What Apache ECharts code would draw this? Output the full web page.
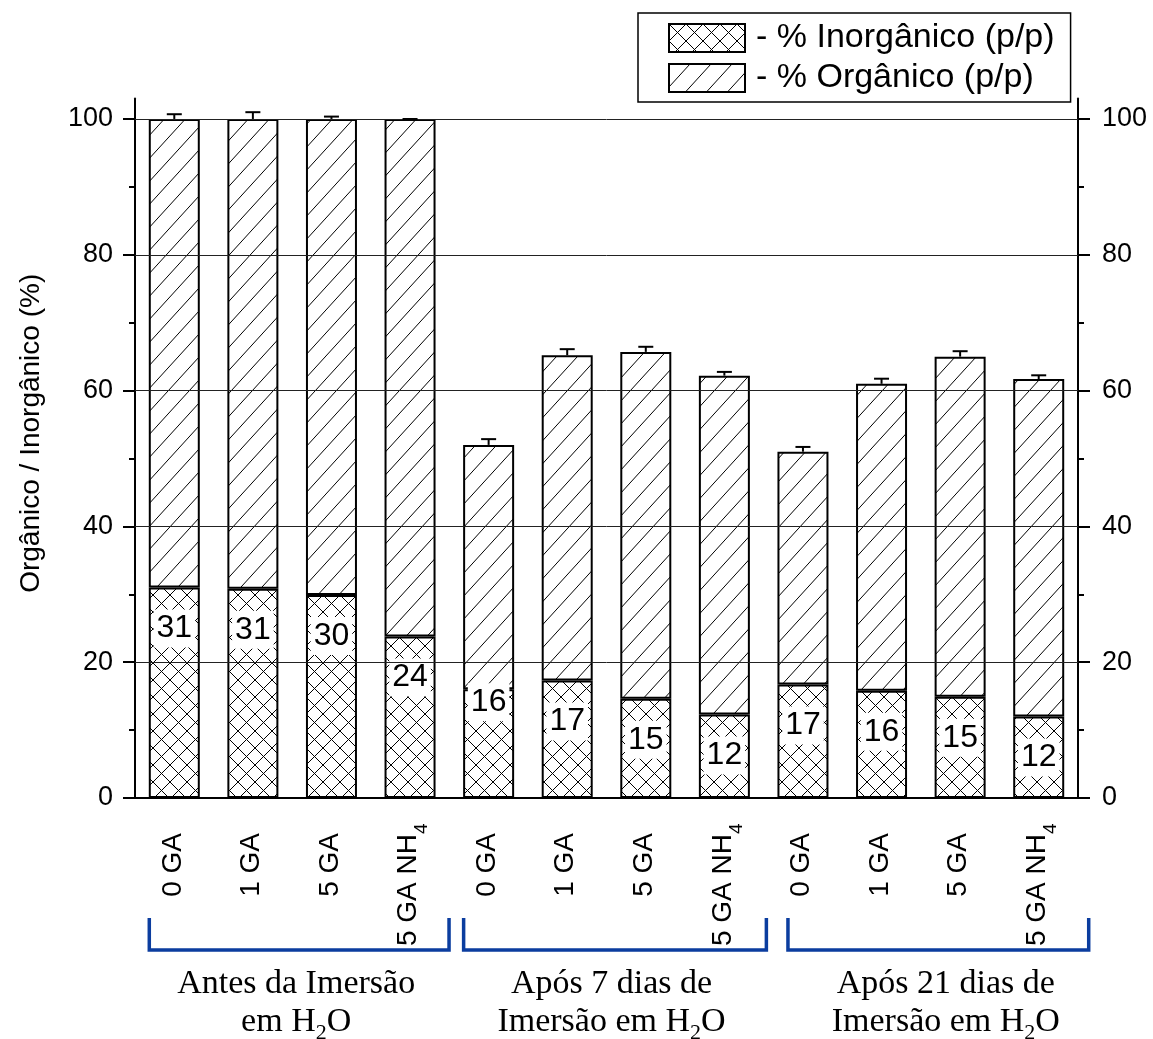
<!DOCTYPE html>
<html>
<head>
<meta charset="utf-8">
<script src="https://cdn.jsdelivr.net/npm/echarts@6/dist/echarts.min.js"></script>
<style>
  html, body { margin: 0; padding: 0; background: #fff; }
  #chart { width: 1153px; height: 1039px; }
</style>
</head>
<body>
<div id="chart"></div>
<script>
// ---- data ----
const categories = ['0 GA', '1 GA', '5 GA', '5 GA NH4',
                    '0 GA', '1 GA', '5 GA', '5 GA NH4',
                    '0 GA', '1 GA', '5 GA', '5 GA NH4'];
const inorganic  = [31.0, 30.8, 29.9, 23.8, 16.0, 17.3, 14.6, 12.3, 16.7, 15.8, 14.9, 12.0];
const organic    = [69.0, 69.2, 70.1, 76.2, 36.0, 47.9, 51.1, 49.9, 34.3, 45.2, 50.1, 49.7];
const organicErr = [0.7, 1.0, 0.35, 0, 0.85, 0.9, 0.75, 0.55, 0.7, 0.75, 0.8, 0.55];
const yTicks      = [0, 20, 40, 60, 80, 100];
const yMinorTicks = [10, 30, 50, 70, 90];
const groupNames  = ['Antes da Imersão\nem H2O', 'Após 7 dias de\nImersão em H2O', 'Após 21 dias de\nImersão em H2O'];
const groupRanges = [[0, 3], [4, 7], [8, 11]];
const seriesNames = ['- % Inorgânico (p/p)', '- % Orgânico (p/p)'];

// ---- layout / style constants ----
const SANS = "'Liberation Sans', Arial, sans-serif";
const SERIF = "'Liberation Serif', 'Times New Roman', serif";
const BLUE = '#0b3d9f';
const bracketInset = [[-25, 39], [-25, 42], [-15, 50]];
const groupTextShift = [4, 5, 25];
const labelShift = { 4: -28 };

// hatch fills drawn on small repeating tiles
function hatchTile(w, h, cross) {
  const c = document.createElement('canvas');
  c.width = w; c.height = h;
  const g = c.getContext('2d');
  g.fillStyle = '#fff';
  g.fillRect(0, 0, w, h);
  g.strokeStyle = '#000';
  g.lineWidth = 1;
  g.beginPath();
  for (const o of [-w, 0, w]) { g.moveTo(o, h); g.lineTo(o + w, 0); }
  if (cross) {
    for (const o of [-w, 0, w]) { g.moveTo(o, 0); g.lineTo(o + w, h); }
  }
  g.stroke();
  return c;
}
const crossFill = { image: hatchTile(17, 17, true), repeat: 'repeat' };
const diagFill  = { image: hatchTile(21, 23, false), repeat: 'repeat' };

const chart = echarts.init(document.getElementById('chart'), null, { renderer: 'canvas' });

const yBase = {
  type: 'value', min: 0, max: 103,
  splitLine: { show: false },
  axisLine: { show: true, onZero: false, lineStyle: { color: '#000', width: 2 } }
};

const option = {
  backgroundColor: '#fff',
  animation: false,
  grid: { left: 135, right: 75, top: 98.6, bottom: 241, outerBoundsMode: 'none' },
  legend: {
    left: 638, top: 13, orient: 'vertical',
    selectedMode: false,
    icon: 'rect',
    itemWidth: 76, itemHeight: 28, itemGap: 6,
    padding: [8, 16, 7, 30],
    borderColor: '#000', borderWidth: 1.5,
    textStyle: { fontFamily: SANS, fontSize: 34, color: '#000', lineHeight: 28, padding: [0, 0, 0, 6] },
    data: seriesNames
  },
  xAxis: {
    type: 'category',
    data: categories,
    axisLine: { lineStyle: { color: '#000', width: 2 } },
    axisTick: { alignWithLabel: true, length: 12, lineStyle: { color: '#000', width: 2 } },
    axisLabel: {
      interval: 0, rotate: 90, margin: 35,
      formatter: v => {
        const m = v.match(/^(.*NH)(\d)$/);
        return m ? '{a|' + m[1] + '}{s|' + m[2] + '}' : '{a|' + v + '}';
      },
      rich: {
        a: { fontFamily: SANS, fontSize: 28, color: '#000', lineHeight: 31, align: 'left', verticalAlign: 'top' },
        // the subscript hangs past the label end, like a typeset index
        s: { fontFamily: SANS, fontSize: 19, color: '#000', lineHeight: 19, width: 1, align: 'left', verticalAlign: 'top', padding: [18, 0, 0, 0] }
      }
    }
  },
  yAxis: [
    Object.assign({}, yBase, {
      position: 'left',
      name: 'Orgânico / Inorgânico (%)',
      nameLocation: 'middle', nameGap: 90,
      nameTextStyle: { fontFamily: SANS, fontSize: 28, color: '#000', padding: [0, 0, 0, 30] },
      axisTick: { show: true, length: 12, customValues: yTicks, lineStyle: { color: '#000', width: 2 } },
      axisLabel: { customValues: yTicks, margin: 22, fontFamily: SANS, fontSize: 27, color: '#000' }
    }),
    Object.assign({}, yBase, {
      position: 'left',
      axisLine: { show: false },
      axisTick: { show: true, length: 6, customValues: yMinorTicks, lineStyle: { color: '#000', width: 2 } },
      axisLabel: { show: false }
    }),
    Object.assign({}, yBase, {
      position: 'right',
      axisTick: { show: true, length: 12, customValues: yTicks, lineStyle: { color: '#000', width: 2 } },
      axisLabel: { customValues: yTicks, margin: 24, fontFamily: SANS, fontSize: 27, color: '#000' }
    }),
    Object.assign({}, yBase, {
      position: 'right',
      axisLine: { show: false },
      axisTick: { show: true, length: 6, customValues: yMinorTicks, lineStyle: { color: '#000', width: 2 } },
      axisLabel: { show: false }
    })
  ],
  series: [
    {
      name: seriesNames[0],
      type: 'bar', stack: 'total', barWidth: 51,
      itemStyle: { color: crossFill, borderColor: '#000', borderWidth: 2 },
      emphasis: { disabled: true },
      label: {
        show: true, position: 'insideTop', distance: 22,
        formatter: p => String(Math.round(p.value)),
        fontFamily: SANS, fontSize: 32, color: '#000', lineHeight: 34,
        backgroundColor: '#fff', padding: [2, 3]
      },
      data: inorganic.map((v, i) => labelShift[i] !== undefined
        ? { value: v, label: { offset: [0, labelShift[i]] } }
        : v)
    },
    {
      name: seriesNames[1],
      type: 'bar', stack: 'total', barWidth: 51,
      itemStyle: { color: diagFill, borderColor: '#000', borderWidth: 2 },
      emphasis: { disabled: true },
      data: organic,
      markLine: {
        silent: true, symbol: ['none', 'none'],
        label: { show: false },
        emphasis: { disabled: true },
        lineStyle: { color: '#222', width: 1, type: 'solid' },
        data: yTicks.filter(v => v > 0).map(v => ({ yAxis: v }))
      }
    },
    {
      name: 'erro',
      type: 'custom',
      z: 5,
      renderItem: (params, api) => {
        const i = api.value(0), top = api.value(1), err = api.value(2);
        const p0 = api.coord([i, top]);
        const p1 = api.coord([i, top + err]);
        const w = 15;
        const st = { stroke: '#000', lineWidth: 2 };
        return {
          type: 'group',
          children: [
            { type: 'line', shape: { x1: p0[0], y1: p0[1], x2: p1[0], y2: p1[1] }, style: st },
            { type: 'line', shape: { x1: p1[0] - w / 2, y1: p1[1], x2: p1[0] + w / 2, y2: p1[1] }, style: st }
          ]
        };
      },
      data: organicErr.map((e, i) => [i, inorganic[i] + organic[i], e])
    }
  ]
};

chart.setOption(option);

// group brackets and captions under the category labels
const y0 = chart.convertToPixel({ yAxisIndex: 0 }, 0);
const graphics = [];
groupRanges.forEach(([a, b], gi) => {
  const xa = chart.convertToPixel({ xAxisIndex: 0 }, a);
  const xb = chart.convertToPixel({ xAxisIndex: 0 }, b);
  const l = xa + bracketInset[gi][0];
  const r = xb + bracketInset[gi][1];
  graphics.push({
    type: 'polyline', silent: true,
    shape: { points: [[l, y0 + 120], [l, y0 + 152], [r, y0 + 152], [r, y0 + 120]] },
    style: { stroke: BLUE, lineWidth: 3.5, fill: null }
  });
  const text = groupNames[gi].split('\n').map(line => {
    const m = line.match(/^(.*H)(\d)(O)$/);
    return m ? '{t|' + m[1] + '}{s|' + m[2] + '}{t|' + m[3] + '}' : '{t|' + line + '}';
  }).join('\n');
  graphics.push({
    type: 'text', silent: true,
    x: (xa + xb) / 2 + groupTextShift[gi], y: y0 + 207,
    style: {
      text: text, align: 'center', verticalAlign: 'middle',
      rich: {
        t: { fontFamily: SERIF, fontSize: 34, fill: '#000', lineHeight: 38, verticalAlign: 'top' },
        s: { fontFamily: SERIF, fontSize: 22, fill: '#000', lineHeight: 22, verticalAlign: 'top', padding: [17, 0, 0, 0] }
      }
    }
  });
});
chart.setOption({ graphic: graphics });
</script>
</body>
</html>
